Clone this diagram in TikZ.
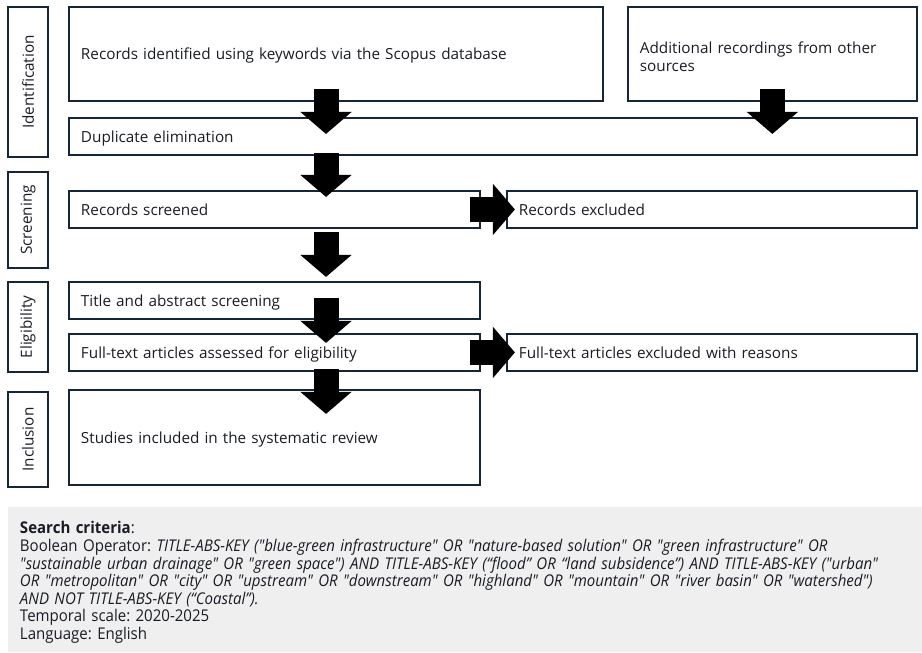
\documentclass[tikz,border=0pt]{standalone}
\usepackage{fontspec}
\setmainfont{Open Sans}
\newfontfamily\critfont[FakeStretch=0.93]{Open Sans}
\usetikzlibrary{positioning, arrows.meta}
\definecolor{edge}{RGB}{20,38,56}
\definecolor{ink}{RGB}{25,28,36}
\definecolor{critbg}{RGB}{239,239,239}
\newcommand\sinkend{\endgraf\vspace{-3.4pt}}
\tikzstyle{box}=[draw=edge, line width=1.4pt, inner xsep=0.24cm, inner ysep=0pt, outer sep=0pt,
                 align=left, text=ink, font=\fontsize{8.7}{10.4}\selectfont,
                 minimum height=0.74cm, text width=7.74cm,
                 execute at end node=\sinkend]
\tikzstyle{side}=[draw=edge, line width=1.4pt, rotate=90, inner sep=0pt, outer sep=0pt,
                  minimum height=0.8cm, text=ink, font=\fontsize{8.7}{10.4}\selectfont]
\tikzstyle{blk}=[-{Triangle[length=0.44cm, width=1.0cm]}, line width=0.5cm]
\tikzstyle{crit}=[fill=critbg, inner xsep=0.24cm, inner ysep=0pt, outer sep=0pt, align=left,
                  text width=17.8cm, minimum height=2.9cm, text=ink,
                  font=\critfont\fontsize{9.2}{10}\selectfont\frenchspacing,
                  execute at end node=\sinkend]

\begin{document}
\begin{tikzpicture}[x=0.02cm, y=-0.02cm, node distance=0.54cm]
    \useasboundingbox (0,0) rectangle (922,652);
    \node[box, anchor=north west, text width=10.2cm, minimum height=1.88cm] (ident) at (69,7)
        {Records identified using keywords via the Scopus database};
    \node[box, right=0.5cm of ident.north east, anchor=north west, text width=5.3cm, minimum height=1.88cm] (add)
        {Additional recordings from other\\sources};
    \node[box, below=0.34cm of ident.south west, anchor=north west, text width=16.48cm] (dup)
        {Duplicate elimination};
    \node[box, below=0.72cm of dup.south west, anchor=north west] (scr) {Records screened};
    \node[box, right=of scr, text width=7.72cm] (excl) {Records excluded};
    \node[box, below=1.08cm of scr.south west, anchor=north west] (title) {Title and abstract screening};
    \node[box, below=0.3cm of title.south west, anchor=north west] (full)
        {Full-text articles assessed for eligibility};
    \node[box, right=of full, text width=7.72cm] (fexcl) {Full-text articles excluded with reasons};
    \node[box, below=0.38cm of full.south west, anchor=north west, minimum height=1.9cm] (incl)
        {Studies included in the systematic review};

    \node[side, minimum width=3.0cm]  (lid)  at (28,82)    {Identification};
    \node[side, minimum width=1.92cm] (lscr) at (28,220)   {Screening};
    \node[side, minimum width=1.8cm]  (lel)  at (28,327)   {Eligibility};
    \node[side, minimum width=1.9cm]  (lin)  at (28,439.5) {Inclusion};

    \coordinate (spine) at (326,0);
    \draw[blk] ([shift={(0,-12)}]spine |- ident.south) -- ([shift={(0,16)}]spine |- dup.north);
    \draw[blk] ([shift={(0,-12)}]add.south) -- ([shift={(0,16)}]add.south |- dup.north);
    \draw[blk] ([shift={(0,-2)}]spine |- dup.south) -- ([shift={(0,6)}]spine |- scr.north);
    \draw[blk] ([shift={(0,4)}]spine |- scr.south) -- ([shift={(0,-5)}]spine |- title.north);
    \draw[blk] ([shift={(0,-21)}]spine |- title.south) -- ([shift={(0,9)}]spine |- full.north);
    \draw[blk] ([shift={(0,-2)}]spine |- full.south) -- ([shift={(0,24)}]spine |- incl.north);
    \draw[blk] ([shift={(-10,0)}]scr.east) -- ([shift={(8,0)}]excl.west);
    \draw[blk] ([shift={(-10,0)}]full.east) -- ([shift={(8,0)}]fexcl.west);

    \node[crit, anchor=north west] (crit) at (8,507)
        {\textbf{Search criteria}:\\
         Boolean Operator: \textit{TITLE-ABS-KEY ("blue-green infrastructure" OR "nature-based solution" OR "green infrastructure" OR}\\
         \textit{"sustainable urban drainage" OR "green space") AND TITLE-ABS-KEY (“flood” OR “land subsidence”) AND TITLE-ABS-KEY ("urban"}\\
         \textit{OR "metropolitan" OR "city" OR "upstream" OR "downstream" OR "highland" OR "mountain" OR "river basin" OR "watershed")}\\
         \textit{AND NOT TITLE-ABS-KEY (“Coastal”).}\\
         Temporal scale: 2020-2025\\
         Language: English};
\end{tikzpicture}
\end{document}
